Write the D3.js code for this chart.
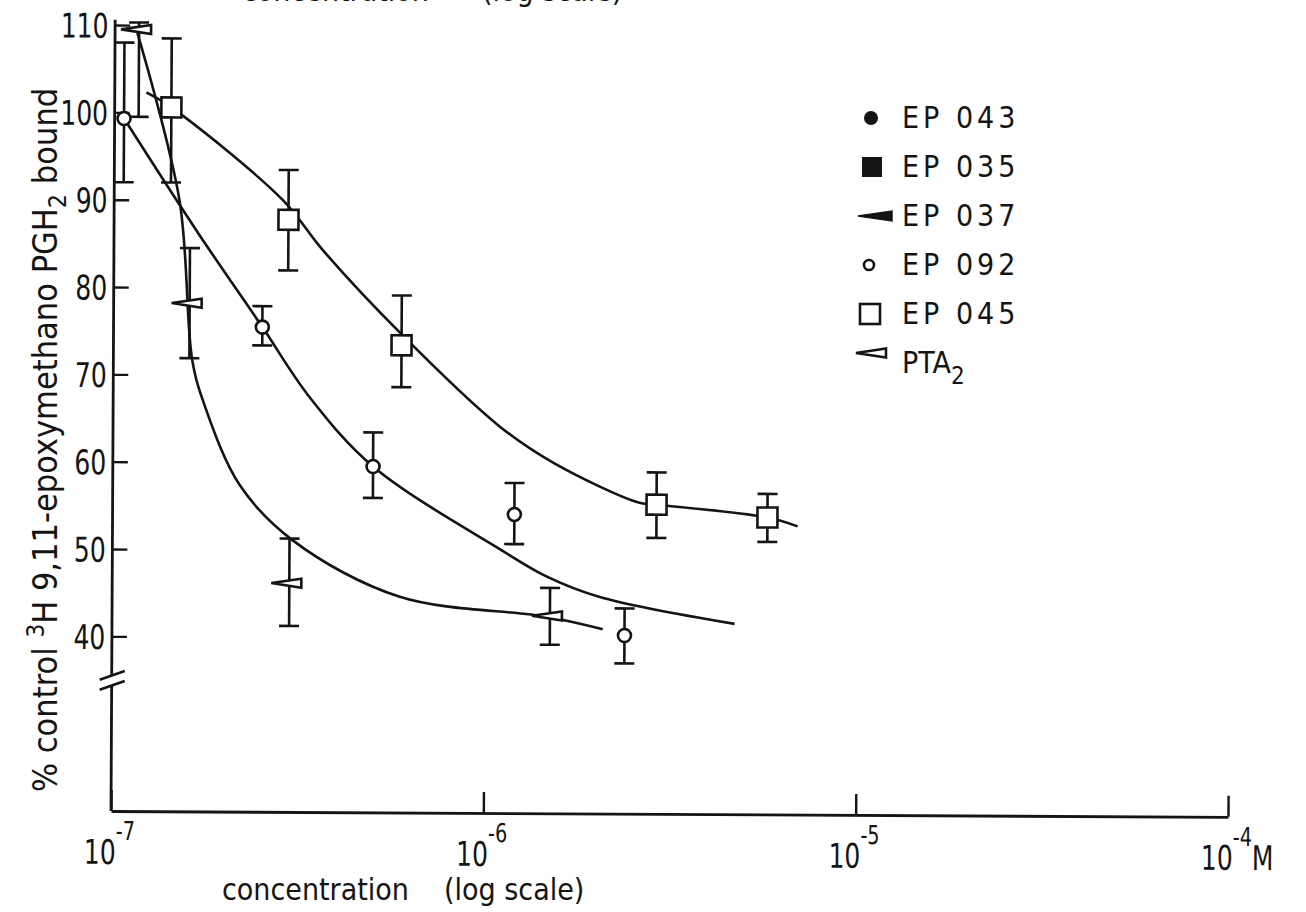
<!DOCTYPE html>
<html><head><meta charset="utf-8">
<script src="https://cdn.jsdelivr.net/npm/d3@7"></script>
<style>
html,body{margin:0;padding:0;background:#fff;}
svg{display:block;background:#fff;}
text{font-family:"DejaVu Sans Condensed","Liberation Sans Narrow","Arial Narrow",sans-serif;fill:#141414;}
</style></head><body>
<svg id="chart" width="1306" height="912"></svg>
<script>
// Inhibition of [3H] 9,11-epoxymethano PGH2 binding: concentration (M) vs % of control bound
const ep092Conc = [1.06e-7, 2.51e-7, 5.0e-7, 1.2e-6, 2.38e-6];
const ep092Mean = [99.3, 75.5, 59.6, 54.2, 40.4];
const ep092Low  = [92.0, 73.4, 56.0, 50.8, 37.2];
const ep092High = [108.0, 77.9, 63.5, 57.8, 43.5];

const ep045Conc = [1.42e-7, 2.94e-7, 5.94e-7, 2.89e-6, 5.74e-6];
const ep045Mean = [100.6, 87.8, 73.5, 55.4, 54.0];
const ep045Low  = [92.0, 82.0, 68.7, 51.6, 51.2];
const ep045High = [108.5, 93.5, 79.2, 59.1, 56.7];

const pta2Conc = [1.16e-7, 1.60e-7, 2.99e-7, 1.5e-6];
const pta2Mean = [109.5, 78.2, 46.2, 42.6];
const pta2Low  = [99.5, 71.9, 41.3, 39.3];
const pta2High = [110.3, 84.5, 51.3, 45.8];

// Hand-drawn fitted curves, traced as (concentration, %) pairs
const ep092CurveConc = [1.06e-7, 1.666e-7, 2.51e-7, 3.37e-7, 5.0e-7, 1.10e-6, 1.47e-6, 2.04e-6, 4.70e-6];
const ep092CurveVal  = [99.3, 86.5, 75.5, 67.5, 59.6, 50.2, 47.1, 44.8, 41.8];

const ep045CurveConc = [1.216e-7, 1.42e-7, 2.83e-7, 3.63e-7, 5.86e-7, 1.09e-6, 1.53e-6, 2.60e-6, 2.89e-6, 5.74e-6, 6.92e-6];
const ep045CurveVal  = [102.3, 100.6, 90.1, 84.4, 75.0, 64.3, 60.1, 55.6, 55.4, 54.0, 53.0];

const pta2CurveConc = [1.148e-7, 1.497e-7, 1.63e-7, 1.761e-7, 2.193e-7, 3.05e-7, 5.92e-7, 1.47e-6, 2.08e-6];
const pta2CurveVal  = [109.1, 90.0, 71.6, 66.5, 57.4, 51.1, 44.7, 42.5, 41.1];

// Axis ticks
const xTickValues = [1e-7, 1e-6, 1e-5, 1e-4];
const xTickExponents = ["-7", "-6", "-5", "-4"];
const yTickValues = [40, 50, 60, 70, 80, 90, 100, 110];
const yBreakValue = 34.9;

// Legend
const legendLabels = ["EP 043", "EP 035", "EP 037", "EP 092", "EP 045", "PTA"];
const legendSymbols = ["dot", "filledSquare", "filledWedge", "circle", "square", "openWedge"];

const svg = d3.select("#chart");
const W = 1306, H = 912;
svg.append("rect").attr("width", W).attr("height", H).attr("fill", "#fff");

const x = d3.scaleLog().domain([1e-7, 1e-4]).range([111, 1228]);
const y = d3.scaleLinear().domain([20, 110]).range([811, 25]);

const ink = "#141414";
// the plotting frame sits very slightly skewed on the page
const plot = svg.append("g").attr("transform", `rotate(0.3, ${x(1e-7)}, ${y(20)})`);

// x axis with inward ticks
const xAxis = d3.axisBottom(x).tickValues(xTickValues).tickSize(-21).tickSizeOuter(0).tickFormat("");
const gx = plot.append("g").attr("transform", `translate(0,${y(20)})`).call(xAxis);
gx.select(".domain").attr("stroke", ink).attr("stroke-width", 2.8);
gx.selectAll(".tick line").attr("stroke", ink).attr("stroke-width", 2.4);

const xLab = plot.append("g");
xTickValues.forEach((t, i) => {
  const tx = xLab.append("text")
    .attr("transform", `translate(${x(t) - 27},864) scale(0.82,1)`)
    .attr("font-size", 34);
  tx.append("tspan").text("10");
  tx.append("tspan").attr("dy", -24).attr("font-size", 26).text(xTickExponents[i]);
  if (i === xTickValues.length - 1) tx.append("tspan").attr("dy", 24).attr("font-size", 34).text("M");
});

// y axis with inward ticks and a break near the bottom
const yAxis = d3.axisLeft(y).tickValues(yTickValues).tickSize(-15).tickPadding(8);
const gy = plot.append("g").attr("transform", `translate(${x(1e-7)},0)`).call(yAxis);
gy.select(".domain").remove();
gy.selectAll(".tick line").attr("stroke", ink).attr("stroke-width", 2.4);
gy.selectAll(".tick text").attr("font-size", 34).attr("fill", ink).attr("dy", "0.36em")
  .attr("transform", "scale(0.82,1)")
  .style("font-family", '"DejaVu Sans Condensed","Liberation Sans Narrow",sans-serif');

const ax0 = x(1e-7);
const yb = y(yBreakValue);
plot.append("line").attr("x1", ax0).attr("x2", ax0).attr("y1", y(20)).attr("y2", yb + 5)
  .attr("stroke", ink).attr("stroke-width", 2.8);
plot.append("line").attr("x1", ax0).attr("x2", ax0).attr("y1", yb - 5).attr("y2", y(110.6))
  .attr("stroke", ink).attr("stroke-width", 2.8);
[-5, 5].forEach(o => {
  plot.append("line").attr("x1", ax0 - 12).attr("y1", yb + o + 4).attr("x2", ax0 + 13).attr("y2", yb + o - 5)
    .attr("stroke", ink).attr("stroke-width", 2.6);
});

// fitted curves
const line = d3.line().x(d => x(d[0])).y(d => y(d[1])).curve(d3.curveCatmullRom.alpha(0.5));
const curves = [
  [ep092CurveConc, ep092CurveVal],
  [ep045CurveConc, ep045CurveVal],
  [pta2CurveConc, pta2CurveVal]
];
curves.forEach(([c, v]) => {
  plot.append("path").datum(c.map((d, i) => [d, v[i]])).attr("d", line)
    .attr("fill", "none").attr("stroke", ink).attr("stroke-width", 2.6);
});

// error bars
function errorBars(conc, low, high, capW) {
  const g = plot.append("g").attr("stroke", ink).attr("stroke-width", 2.6);
  conc.forEach((c, i) => {
    const cx = x(c);
    g.append("line").attr("x1", cx).attr("x2", cx).attr("y1", y(low[i])).attr("y2", y(high[i]));
    g.append("line").attr("x1", cx - capW / 2).attr("x2", cx + capW / 2).attr("y1", y(low[i])).attr("y2", y(low[i]));
    g.append("line").attr("x1", cx - capW / 2).attr("x2", cx + capW / 2).attr("y1", y(high[i])).attr("y2", y(high[i]));
  });
}
errorBars(ep092Conc, ep092Low, ep092High, 20);
errorBars(ep045Conc, ep045Low, ep045High, 20);
errorBars(pta2Conc, pta2Low, pta2High, 20);

// marker shapes
const wedgePath = (len, h, tipFrac) => {
  const l = -len * tipFrac, r = len * (1 - tipFrac);
  return `M${l},0L${r},${-h / 2}L${r},${h / 2}Z`;
};
function drawSymbol(g, type, cx, cy, r) {
  if (type === "dot") g.append("circle").attr("cx", cx).attr("cy", cy).attr("r", r || 7).attr("fill", ink);
  else if (type === "circle") g.append("circle").attr("cx", cx).attr("cy", cy).attr("r", r || 6.5)
    .attr("fill", "#fff").attr("stroke", ink).attr("stroke-width", 2.6);
  else if (type === "filledSquare") g.append("rect").attr("x", cx - 10).attr("y", cy - 10)
    .attr("width", 20).attr("height", 20).attr("fill", ink);
  else if (type === "square") g.append("rect").attr("x", cx - 10).attr("y", cy - 10)
    .attr("width", 20).attr("height", 20).attr("fill", "#fff").attr("stroke", ink).attr("stroke-width", 2.6);
  else if (type === "filledWedge") g.append("path").attr("transform", `translate(${cx},${cy})`)
    .attr("d", wedgePath(34, 10, 0.5)).attr("fill", ink).attr("stroke", ink).attr("stroke-width", 1.5);
  else if (type === "openWedge") g.append("path").attr("transform", `translate(${cx},${cy})`)
    .attr("d", wedgePath(30, 9, 0.6)).attr("fill", "#fff").attr("stroke", ink).attr("stroke-width", 2.6);
}
const marks = plot.append("g");
ep092Conc.forEach((c, i) => drawSymbol(marks, "circle", x(c), y(ep092Mean[i])));
ep045Conc.forEach((c, i) => drawSymbol(marks, "square", x(c), y(ep045Mean[i])));
pta2Conc.forEach((c, i) => drawSymbol(marks, "openWedge", x(c), y(pta2Mean[i])));

// legend
const legendRow = d3.scalePoint().domain(d3.range(legendLabels.length)).range([128, 373]);
const legendSymbolX = { dot: 871, filledSquare: 872, filledWedge: 875, circle: 869, square: 870, openWedge: 874 };
const lg = svg.append("g");
legendLabels.forEach((lab, i) => {
  const by = legendRow(i);
  const sym = legendSymbols[i];
  const isPTA = sym === "openWedge";
  drawSymbol(lg, sym, legendSymbolX[sym], by - (isPTA ? 20 : 10), sym === "circle" ? 5 : null);
  const t = lg.append("text").attr("x", 902).attr("y", by).attr("font-size", 30)
    .attr("letter-spacing", isPTA ? 0 : 4).text(lab);
  if (isPTA) t.append("tspan").attr("dy", 11).attr("font-size", 24).text("2");
});

// axis titles
const xt = svg.append("text").attr("x", 222).attr("y", 900).attr("font-size", 30);
xt.append("tspan").text("concentration");
xt.append("tspan").attr("x", 444).text("(log scale)");

const yt = svg.append("text").attr("transform", "translate(57,792) rotate(-90)").attr("font-size", 34);
yt.append("tspan").text("% control ");
yt.append("tspan").attr("dy", -13).attr("font-size", 24).text("3");
yt.append("tspan").attr("dy", 13).text("H 9,11-epoxymethano PGH");
yt.append("tspan").attr("dy", 9).attr("font-size", 25).text("2");
yt.append("tspan").attr("dy", -9).text(" bound");

// caption of the preceding panel, cut by the page edge
const prevCaption = svg.append("text").attr("x", 242).attr("y", 1).attr("font-size", 30).attr("fill", "#333");
prevCaption.append("tspan").text("concentration");
prevCaption.append("tspan").attr("x", 482).text("(log scale)");
</script>
</body></html>
